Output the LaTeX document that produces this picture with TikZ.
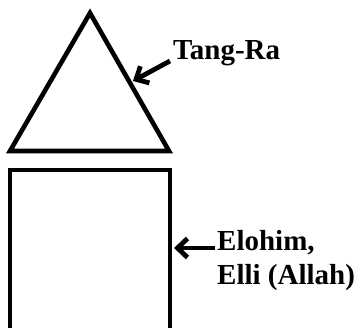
\documentclass[tikz,border=0pt]{standalone}
\usepackage{fontspec}
\setmainfont{Liberation Serif}
\usetikzlibrary{arrows.meta}
\begin{document}
\begin{tikzpicture}[x=1pt,y=-1pt,
  outline/.style={line width=4.6pt,line join=miter},
  lbl/.style={font=\bfseries\fontsize{29}{32}\selectfont,inner sep=0pt,anchor=base west},
  pointer/.style={line width=4.8pt,-{Straight Barb[length=10pt,width=19pt]}}]
\useasboundingbox (0,0) rectangle (361,328);
\clip (0,0) rectangle (361,328);
\coordinate (apex) at (90,13);
\coordinate (bl) at (10,151);
\coordinate (br) at (169,151);
\draw[outline] (apex) -- (br) -- (bl) -- cycle;
\draw[outline] (10,340) -- (10,170) -- (170,170) -- (170,340);
\node[lbl] (tang) at (173,60) {Tang-Ra};
\coordinate (ttail) at ([shift={(-3,1)}]tang.base west);
\coordinate (ttip) at (133,81);
\draw[pointer] (ttail) -- (ttip);
\node[lbl] (elo) at (217,251) {Elohim,};
\node[lbl] (elli) at (217,284) {Elli (Allah)};
\coordinate (etail) at ([shift={(-2,-3)}]elo.base west);
\coordinate (etip) at (174,248);
\draw[pointer] (etail) -- (etip);
\end{tikzpicture}
\end{document}
